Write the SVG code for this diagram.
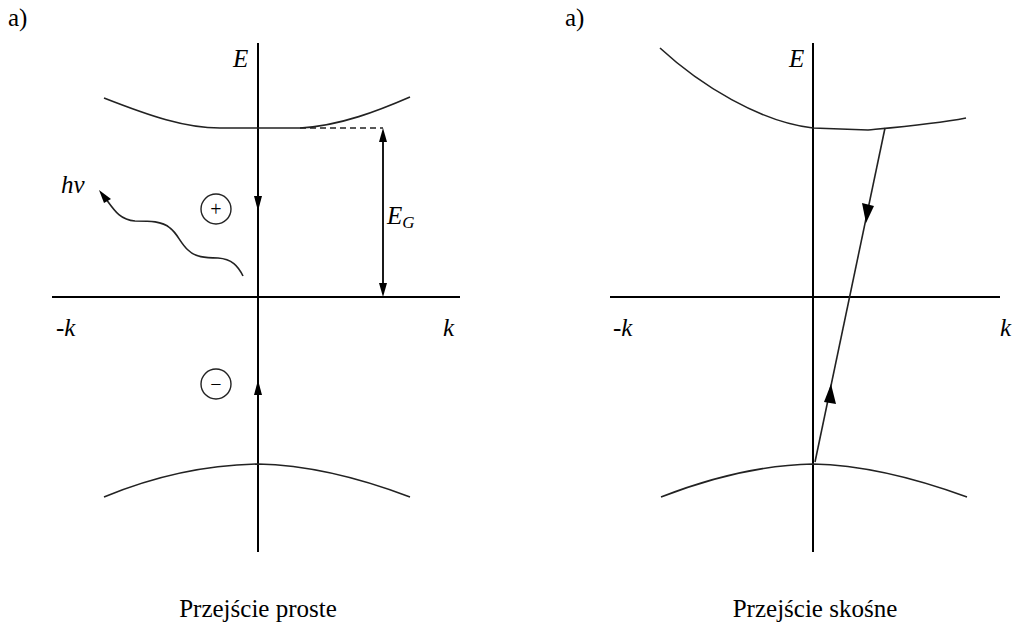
<svg xmlns="http://www.w3.org/2000/svg" width="1017" height="626" viewBox="0 0 1017 626">
<style>
.t{font-family:"Liberation Serif","Times New Roman",serif;font-size:25px;fill:#000}
.c{font-family:"Liberation Serif","Times New Roman",serif;font-size:20px;fill:#000}
.v{font-family:"Liberation Serif","Times New Roman",serif;font-size:25px;font-style:italic;fill:#000}
.s{font-size:17px}
.ax{stroke:#000;stroke-width:2;fill:none}
.cv{stroke:#222;stroke-width:1.6;fill:none}
.ah{fill:#000;stroke:none}
</style>
<rect width="1017" height="626" fill="#fff"/>
<g id="panel-left">
  <text class="t" x="8" y="26">a)</text>
  <g id="axes-left">
    <line class="ax" x1="258" y1="43" x2="258" y2="552"/>
    <line class="ax" x1="52" y1="297" x2="460" y2="297"/>
    <text class="v" x="233" y="67">E</text>
    <text class="v" x="56" y="336">-k</text>
    <text class="v" x="443" y="336">k</text>
  </g>
  <g id="conduction-band-left">
    <path class="cv" d="M104,98 C150,116 185,128 220,128 L300,128 C340,126 380,110 410,97"/>
  </g>
  <g id="valence-band-left">
    <path class="cv" d="M104,497 C150,478 200,465 258,464 C310,465 360,478 410,497"/>
  </g>
  <g id="hole">
    <circle cx="216" cy="209" r="15" fill="none" stroke="#222" stroke-width="1.4"/>
    <text class="c" x="216" y="216" text-anchor="middle">+</text>
  </g>
  <g id="electron">
    <circle cx="216" cy="384" r="15" fill="none" stroke="#222" stroke-width="1.4"/>
    <text class="c" x="216" y="391" text-anchor="middle">−</text>
  </g>
  <g id="photon">
    <text class="v" x="61" y="193">hv</text>
  </g>
  <g id="gap">
    <text class="v" x="387" y="224">E<tspan class="s" dy="4">G</tspan></text>
  </g>
</g>
<g id="panel-right">
  <text class="t" x="565" y="26">a)</text>
  <g id="axes-right">
    <line class="ax" x1="813" y1="43" x2="813" y2="552"/>
    <line class="ax" x1="610" y1="297" x2="1000" y2="297"/>
    <text class="v" x="789" y="67">E</text>
    <text class="v" x="613" y="336">-k</text>
    <text class="v" x="1000" y="336">k</text>
  </g>
  <g id="conduction-band-right">
    <path class="cv" d="M660,48 C700,85 760,122 813,128 L868,130 C900,127 935,124 966,118"/>
  </g>
  <g id="valence-band-right">
    <path class="cv" d="M661,497 C710,478 760,465 813,464 C865,465 915,478 967,497"/>
  </g>
</g>
<g id="connectors">
  <polygon class="ah" points="254,196 262,196 258,211"/>
  <polygon class="ah" points="254,395 262,395 258,380"/>
  <path d="M300,128 L383,128" stroke="#222" stroke-width="1.6" stroke-dasharray="6,4" fill="none"/>
  <line x1="383" y1="132" x2="383" y2="293" stroke="#000" stroke-width="1.8"/>
  <polygon class="ah" points="379,142 387,142 383,128"/>
  <polygon class="ah" points="379,283 387,283 383,297"/>
  <path class="cv" d="M243,276 C238,266 232,259 218,258 C205,258 195,257 188,250 C180,243 178,234 170,228 C162,221 150,221 135,221 C120,220 114,210 106,199"/>
  <polygon class="ah" points="99,190 111,199 104,203"/>
  <line class="cv" x1="885" y1="128" x2="815" y2="462"/>
  <polygon class="ah" points="862,203 874,206 866,223"/>
  <polygon class="ah" points="824,402 836,404 831,384"/>
</g>
<text class="t" x="258" y="617" text-anchor="middle">Przejście proste</text>
<text class="t" x="815" y="617" text-anchor="middle">Przejście skośne</text>
</svg>
